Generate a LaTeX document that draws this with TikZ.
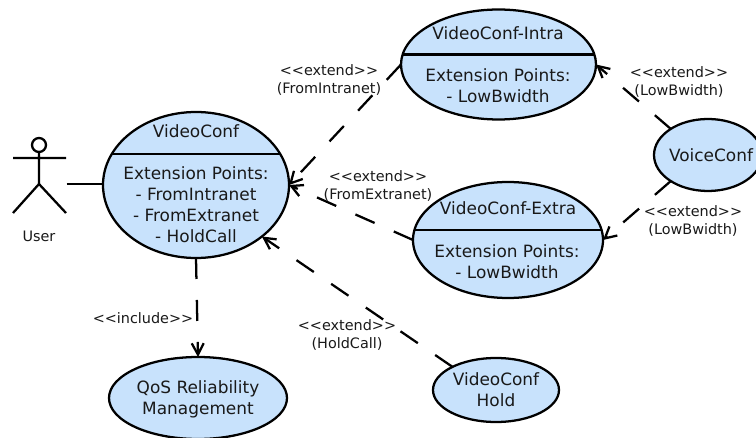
\documentclass[tikz,border=0pt]{standalone}
\usepackage{fontspec}
\setmainfont{DejaVu Sans}
\usetikzlibrary{arrows,arrows.meta,shapes.geometric}
\definecolor{casefill}{HTML}{C8E2FC}
\newcommand{\extendtag}{<{}<{}extend>{}>}
\tikzset{
  usecase/.style={ellipse,draw=black,fill=casefill,line width=1.7pt,inner sep=0pt,outer sep=0pt},
  casetext/.style={align=center,inner sep=0pt,text=black!90,font=\fontsize{12.7}{15.75}\selectfont},
  reltext/.style={align=center,inner sep=0pt,text=black!90,font=\fontsize{10.8}{13.5}\selectfont},
  relline/.style={line width=1.7pt,dash pattern=on 15.75pt off 15.75pt,
    -{Straight Barb[length=8.5pt,width=9pt,line width=1.7pt]}},
  solidline/.style={line width=1.7pt}
}
\begin{document}
\begin{tikzpicture}[x=0.75pt,y=-0.75pt]
      \useasboundingbox (0,0) rectangle (756,438);
      \clip (0,0) rectangle (756,438);

      % Use cases
      \node[usecase,minimum width=139.5pt,minimum height=109.5pt] (conf) at (196,185) {};
      \node[usecase,minimum width=146.25pt,minimum height=82.5pt] (intra) at (498.5,64.5) {};
      \node[usecase,minimum width=142.5pt,minimum height=87pt] (extra) at (508,240) {};
      \node[usecase,minimum width=81pt,minimum height=54pt] (voice) at (708,155) {};
      \node[usecase,minimum width=133.5pt,minimum height=61.5pt] (qos) at (198,398) {};
      \node[usecase,minimum width=94.5pt,minimum height=48pt] (hold) at (496,390) {};

      % Compartment lines
      \draw[solidline] (conf.160) -- (conf.20);
      \draw[solidline] (intra.174) -- (intra.6);
      \draw[solidline] (extra.174) -- (extra.6);

      % Text inside the use cases
      \node[casetext] (conftitle) at (196,131) {VideoConf};
      \node[casetext] (confpoints) at (196,205) {Extension Points:\\- FromIntranet\\- FromExtranet\\- HoldCall};
      \node[casetext] (intratitle) at (498,33) {VideoConf-Intra};
      \node[casetext] (intrapoints) at (498,86) {Extension Points:\\- LowBwidth};
      \node[casetext] (extratitle) at (508,208) {VideoConf-Extra};
      \node[casetext] (extrapoints) at (507,262) {Extension Points:\\- LowBwidth};
      \node[casetext] (voicetitle) at (711,155) {VoiceConf};
      \node[casetext] (qostitle) at (198,399.5) {QoS Reliability\\Management};
      \node[casetext] (holdtitle) at (496,390) {VideoConf\\Hold};

      % Actor
      \coordinate (head) at (39,145);
      \coordinate (neck) at (39,152);
      \coordinate (armleft) at (13,158);
      \coordinate (armright) at (66,158);
      \coordinate (hip) at (39,184);
      \coordinate (legleft) at (13,213);
      \coordinate (legright) at (66,213);
      \coordinate (userside) at (66.5,184);
      \draw[solidline] (head) circle (5.25pt);
      \draw[solidline] (neck) -- (hip) (armleft) -- (armright) (legleft) -- (hip) -- (legright);
      \node[reltext] (user) at (39,236) {User};

      % Relations
      \draw[solidline] (userside) -- (conf.west|-userside);
      \draw[relline] (conf.south) -- (qos.north);
      \draw[relline] (intra.west) -- (conf.east);
      \draw[relline] (extra.west) -- (conf.east);
      \draw[relline] (hold.152) -- (conf.322);
      \draw[relline] (voice.145) -- (intra.east);
      \draw[relline] (voice.215) -- (extra.east);

      % Relation labels
      \node[reltext] (tagintra) at (329,80) {\extendtag\\(FromIntranet)};
      \node[reltext] (tagextra) at (378,186) {\extendtag\\(FromExtranet)};
      \node[reltext] (taghold) at (347,335) {\extendtag\\(HoldCall)};
      \node[reltext] (tagvoiceup) at (679,82) {\extendtag\\(LowBwidth)};
      \node[reltext] (tagvoicedown) at (693,220.5) {\extendtag\\(LowBwidth)};
      \node[reltext] (taginclude) at (143,318) {<{}<{}include>{}>};
\end{tikzpicture}
\end{document}
